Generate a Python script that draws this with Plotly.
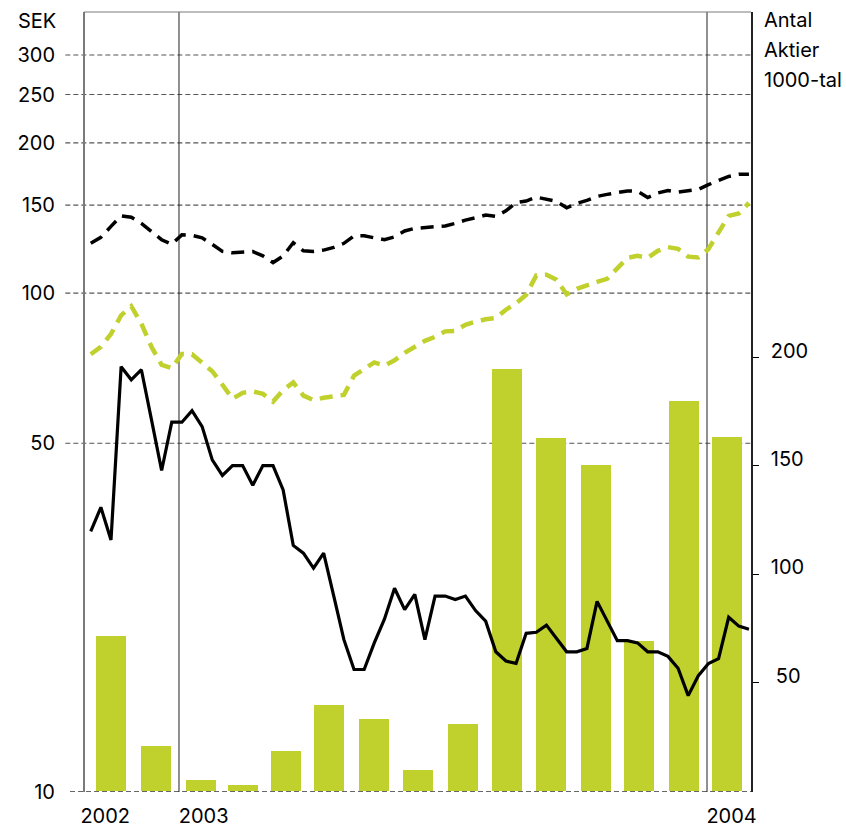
import pandas as pd
import plotly.graph_objects as go

# ---------------- data ----------------
# weekly observations (Fridays), Nov 2002 - Jan 2004
week_dates = pd.date_range("2002-11-01", periods=66, freq="7D")

# SEK, upper black dashed series
index_a = [125.9, 129.3, 136.0, 142.8, 141.9, 137.9, 132.8, 127.9, 125.3, 130.8,
           130.5, 129.0, 125.2, 121.2, 120.4, 120.6, 121.1, 118.7, 115.1, 118.7,
           126.1, 121.5, 121.2, 121.9, 123.5, 125.8, 130.2, 130.2, 129.3, 127.9,
           129.6, 133.2, 134.8, 135.4, 135.5, 136.3, 137.9, 140.0, 141.5, 143.3,
           142.5, 146.1, 151.8, 152.9, 155.7, 154.5, 152.7, 148.2, 151.3, 153.4,
           156.2, 157.7, 159.1, 160.2, 159.9, 155.4, 158.7, 160.5, 159.3, 160.0,
           161.3, 164.9, 168.1, 171.3, 173.0, 173.1]

# SEK, green dashed series
index_b = [75.4, 78.0, 82.8, 90.2, 94.1, 86.8, 78.0, 71.8, 70.7, 75.5,
           75.4, 72.6, 69.7, 65.5, 61.4, 63.1, 63.5, 62.8, 60.6, 63.9,
           66.2, 62.3, 61.0, 61.7, 62.1, 62.5, 68.3, 70.3, 72.6, 71.5,
           73.3, 75.9, 77.8, 80.2, 81.7, 83.8, 84.0, 86.4, 87.6, 88.6,
           89.1, 92.6, 95.4, 99.2, 108.5, 108.8, 106.3, 99.4, 102.0, 103.9,
           105.3, 106.8, 112.3, 117.6, 118.7, 117.6, 121.5, 123.6, 122.6, 118.3,
           117.9, 122.6, 132.3, 142.8, 144.4, 151.6]

# SEK, share price (black solid)
share_price = [33.3, 37.2, 32.0, 71.2, 67.0, 70.2, 55.7, 44.1, 55.1, 55.1,
               58.1, 54.0, 46.3, 43.1, 45.1, 45.1, 41.2, 45.1, 45.1, 40.3,
               31.2, 30.1, 28.1, 30.1, 24.7, 20.2, 17.6, 17.6, 19.9, 22.2,
               25.6, 23.2, 24.9, 20.2, 24.7, 24.7, 24.3, 24.7, 23.1, 22.0,
               19.1, 18.3, 18.1, 20.8, 20.9, 21.6, 20.3, 19.1, 19.1, 19.4,
               24.1, 22.0, 20.1, 20.1, 19.9, 19.1, 19.1, 18.7, 17.7, 15.6,
               17.1, 18.1, 18.5, 22.4, 21.5, 21.2]

# monthly traded shares, 1000-tal
bar_months = ["2002-11-15", "2002-12-16", "2003-01-16", "2003-02-14", "2003-03-16",
              "2003-04-15", "2003-05-16", "2003-06-15", "2003-07-16", "2003-08-16",
              "2003-09-15", "2003-10-16", "2003-11-15", "2003-12-16", "2004-01-15"]
volume = [71.5, 20.8, 5.1, 2.8, 18.5, 39.7, 33.2, 9.7, 30.9, 194.8,
          162.9, 150.5, 69.2, 180.0, 163.4]

left_ticks = [10, 50, 100, 150, 200, 250, 300]
grid_vals = [50, 100, 150, 200, 250, 300]
right_ticks = [50, 100, 150, 200]
right_ticktext = ["\u200550", "100", "150", "200"]
year_ticks = ["2002-11-11", "2003-01-18", "2004-01-18"]
year_text = ["2002", "2003", "2004"]
year_bounds = ["2003-01-01", "2004-01-01"]

GREEN = "#C0D02D"
FONT = "Inter"
FS = 20

fig = go.Figure()
fig.add_trace(go.Bar(x=bar_months, y=volume, yaxis="y", marker_color=GREEN,
                     marker_line_width=0, width=20.7 * 86400000, showlegend=False))
fig.add_trace(go.Scatter(x=week_dates, y=index_a, yaxis="y2", mode="lines",
                         line=dict(color="black", width=3.5, dash="13px,8px"), showlegend=False))
fig.add_trace(go.Scatter(x=week_dates, y=index_b, yaxis="y2", mode="lines",
                         line=dict(color=GREEN, width=4.5, dash="13px,8px"), showlegend=False))
fig.add_trace(go.Scatter(x=week_dates, y=share_price, yaxis="y2", mode="lines",
                         line=dict(color="black", width=3.2), showlegend=False))

shapes = []
for v in grid_vals:
    shapes.append(dict(type="line", xref="paper", yref="y2", x0=-0.028, x1=1, y0=v, y1=v,
                       line=dict(color="#555555", width=1.2, dash="5px,3px"), layer="below"))
shapes.append(dict(type="line", xref="paper", yref="y2", x0=-0.021, x1=1, y0=10, y1=10,
                   line=dict(color="#666666", width=2, dash="5px,3px"), layer="below"))
for d in year_bounds:
    shapes.append(dict(type="line", xref="x", yref="paper", x0=d, x1=d, y0=0, y1=1,
                       line=dict(color="#222222", width=1), layer="below"))
shapes.append(dict(type="line", xref="paper", yref="paper", x0=0, x1=0, y0=0, y1=1,
                   line=dict(color="#7a7a7a", width=2)))
shapes.append(dict(type="line", xref="paper", yref="paper", x0=0, x1=1, y0=1, y1=1,
                   line=dict(color="#7a7a7a", width=1)))

annotations = [
    dict(text="SEK", xref="paper", yref="paper", x=-0.039, y=0.989, xanchor="right",
         yanchor="middle", showarrow=False, font=dict(family=FONT, size=FS, color="black")),
]
for i, t in enumerate(["Antal", "Aktier", "1000-tal"]):
    annotations.append(dict(text=t, xref="paper", yref="paper", x=1.0165,
                            y=1 - (8.5 + 29.5 * i) / 780, xanchor="left", yanchor="middle",
                            showarrow=False, font=dict(family=FONT, size=FS, color="black")))

fig.update_layout(
    width=846, height=827,
    margin=dict(l=84, r=95, t=12, b=35, autoexpand=False),
    plot_bgcolor="white", paper_bgcolor="white",
    font=dict(family=FONT, size=FS, color="black"),
    bargap=0,
    xaxis=dict(type="date", range=["2002-10-27 08:00", "2004-01-31 10:00"],
               tickvals=year_ticks, ticktext=year_text, ticks="", showgrid=False,
               showline=False, zeroline=False, ticklabelstandoff=10),
    yaxis=dict(side="right", range=[-0.46, 359.5], tickvals=right_ticks, ticktext=right_ticktext,
               ticks="outside", ticklen=6, tickcolor="black", tickwidth=1,
               showline=True, linecolor="#222222", linewidth=1.5, showgrid=False,
               zeroline=False, ticklabelshift=-7, ticklabelstandoff=8),
    yaxis2=dict(overlaying="y", side="left", type="log", range=[1, 2.5633],
                tickvals=left_ticks, ticktext=[str(v) for v in left_ticks], ticks="",
                showgrid=False, showline=False, zeroline=False, ticklabelstandoff=28),
    shapes=shapes, annotations=annotations,
)

fig.write_html("out.html", config={"displayModeBar": False},
               post_script="document.body.style.margin='0';document.body.style.padding='0';")
